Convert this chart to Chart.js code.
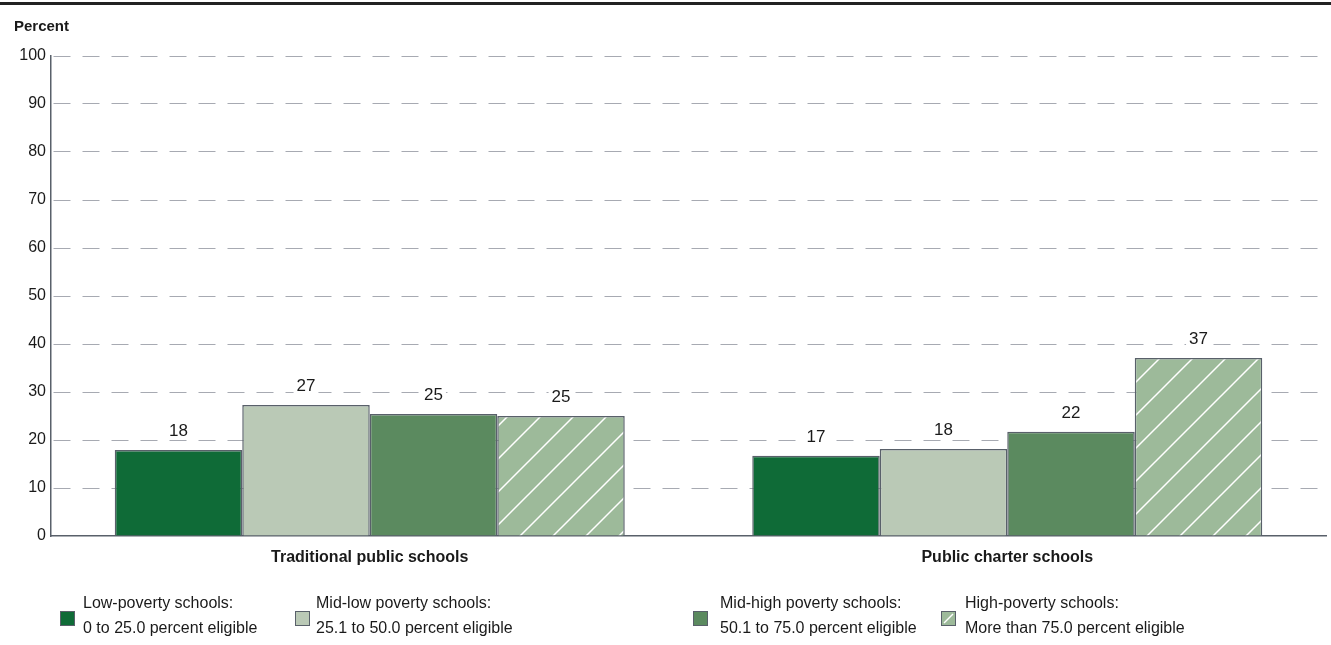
<!DOCTYPE html>
<html><head><meta charset="utf-8">
<script src="https://cdn.jsdelivr.net/npm/chart.js@4.4.0/dist/chart.umd.min.js"></script>
<style>html,body{margin:0;padding:0;background:#fff;overflow:hidden}</style>
</head><body>
<canvas id="c" width="1331" height="645" style="display:block;width:1331px;height:645px"></canvas>
<script>
// ---- data ----
const categories = ['Traditional public schools', 'Public charter schools'];
const seriesNames = [
  ['Low-poverty schools:', '0 to 25.0 percent eligible'],
  ['Mid-low poverty schools:', '25.1 to 50.0 percent eligible'],
  ['Mid-high poverty schools:', '50.1 to 75.0 percent eligible'],
  ['High-poverty schools:', 'More than 75.0 percent eligible']
];
const lowPoverty = [17.9, 16.7];
const midLowPoverty = [27.3, 18.1];
const midHighPoverty = [25.4, 21.7];
const highPoverty = [25.0, 37.1];
const valueLabels = [[18, 17], [27, 18], [25, 22], [25, 37]];
const yTickValues = [0, 10, 20, 30, 40, 50, 60, 70, 80, 90, 100];
const yAxisTitle = 'Percent';

// ---- styles ----
const FONT = "'Liberation Sans', Arial, sans-serif";
const TEXT = '#1a1a1a';
const BORDER = '#59606a';
const GRID = '#a7aab2';

function hatch(bg) {
  const s = 33;
  const c = document.createElement('canvas');
  c.width = s; c.height = s;
  const g = c.getContext('2d');
  g.fillStyle = bg; g.fillRect(0, 0, s, s);
  g.strokeStyle = '#ffffff'; g.lineWidth = 1.5;
  g.beginPath();
  g.moveTo(-2, s + 2); g.lineTo(s + 2, -2);
  g.moveTo(-2, 2); g.lineTo(2, -2);
  g.moveTo(s - 2, s + 2); g.lineTo(s + 2, s - 2);
  g.stroke();
  return g.createPattern(c, 'repeat');
}
const hatchFill = hatch('#9dba9a');
const fills = ['#0f6b37', '#bac9b6', '#5b8a5f', hatchFill];
const seriesData = [lowPoverty, midLowPoverty, midHighPoverty, highPoverty];

const frame = {
  id: 'frame',
  beforeDraw(chart) {
    const ctx = chart.ctx;
    ctx.save();
    ctx.fillStyle = '#fff';
    ctx.fillRect(0, 0, chart.width, chart.height);
    ctx.fillStyle = '#222';
    ctx.fillRect(0, 2, chart.width, 3);
    ctx.font = 'bold 15px ' + FONT;
    ctx.fillStyle = TEXT;
    ctx.textBaseline = 'middle';
    ctx.textAlign = 'left';
    ctx.fillText(yAxisTitle, 14, 27);
    ctx.restore();
  },
  afterDatasetsDraw(chart) {
    const ctx = chart.ctx;
    ctx.save();
    ctx.font = '17px ' + FONT;
    ctx.textAlign = 'center';
    ctx.textBaseline = 'middle';
    chart.data.datasets.forEach((ds, i) => {
      chart.getDatasetMeta(i).data.forEach((bar, j) => {
        const t = String(valueLabels[i][j]);
        const w = ctx.measureText(t).width;
        const y = bar.y - 19;
        ctx.fillStyle = '#fff';
        ctx.fillRect(bar.x - w / 2 - 3, y - 8, w + 6, 16);
        ctx.fillStyle = TEXT;
        ctx.fillText(t, bar.x, y);
      });
    });
    ctx.restore();
  },
  afterDraw(chart) {
    const ctx = chart.ctx;
    const boxX = [60, 295, 693, 941];
    const textX = [83, 316, 720, 965];
    ctx.save();
    ctx.font = '16px ' + FONT;
    ctx.textBaseline = 'middle';
    ctx.textAlign = 'left';
    chart.data.datasets.forEach((ds, i) => {
      ctx.fillStyle = ds.backgroundColor;
      ctx.fillRect(boxX[i], 611, 15, 15);
      ctx.strokeStyle = BORDER;
      ctx.lineWidth = 1;
      ctx.strokeRect(boxX[i] + 0.5, 611.5, 14, 14);
      if (i === 3) {
        ctx.strokeStyle = '#fff'; ctx.lineWidth = 1.4;
        ctx.beginPath(); ctx.moveTo(boxX[i] + 3, 623); ctx.lineTo(boxX[i] + 12, 614); ctx.stroke();
      }
      ctx.fillStyle = TEXT;
      const lines = ds.label;
      ctx.fillText(lines[0], textX[i], 604);
      ctx.fillText(lines[1], textX[i], 629);
    });
    ctx.restore();
  }
};

new Chart(document.getElementById('c'), {
  type: 'bar',
  data: {
    labels: categories,
    datasets: seriesData.map((d, i) => ({
      label: seriesNames[i],
      data: d,
      backgroundColor: fills[i],
      borderColor: BORDER,
      borderWidth: 1.5,
      borderSkipped: 'bottom',
      categoryPercentage: 0.8,
      barPercentage: 1.0
    }))
  },
  options: {
    responsive: false,
    animation: false,
    devicePixelRatio: 1,
    layout: { padding: { top: 56, right: 5, bottom: 69, left: 0 } },
    plugins: { legend: { display: false }, tooltip: { enabled: false } },
    scales: {
      x: {
        grid: { display: false, drawTicks: false },
        border: { display: true, color: BORDER, width: 1.5 },
        ticks: { color: TEXT, font: { family: FONT, size: 16, weight: 'bold' }, padding: 12 },
        afterFit(s) { s.height = 40; }
      },
      y: {
        min: 0, max: 100,
        afterBuildTicks(s) { s.ticks = yTickValues.map(v => ({ value: v })); },
        grid: {
          drawTicks: false,
          color: ctx => (ctx.tick && ctx.tick.value === 0) ? 'rgba(0,0,0,0)' : GRID,
          lineWidth: 1
        },
        border: { display: true, color: BORDER, width: 1.5, dash: [17, 12], dashOffset: -2 },
        ticks: { color: TEXT, font: { family: FONT, size: 16 }, padding: 5 },
        afterFit(s) { s.width = 51; }
      }
    }
  },
  plugins: [frame]
});
</script>
</body></html>
